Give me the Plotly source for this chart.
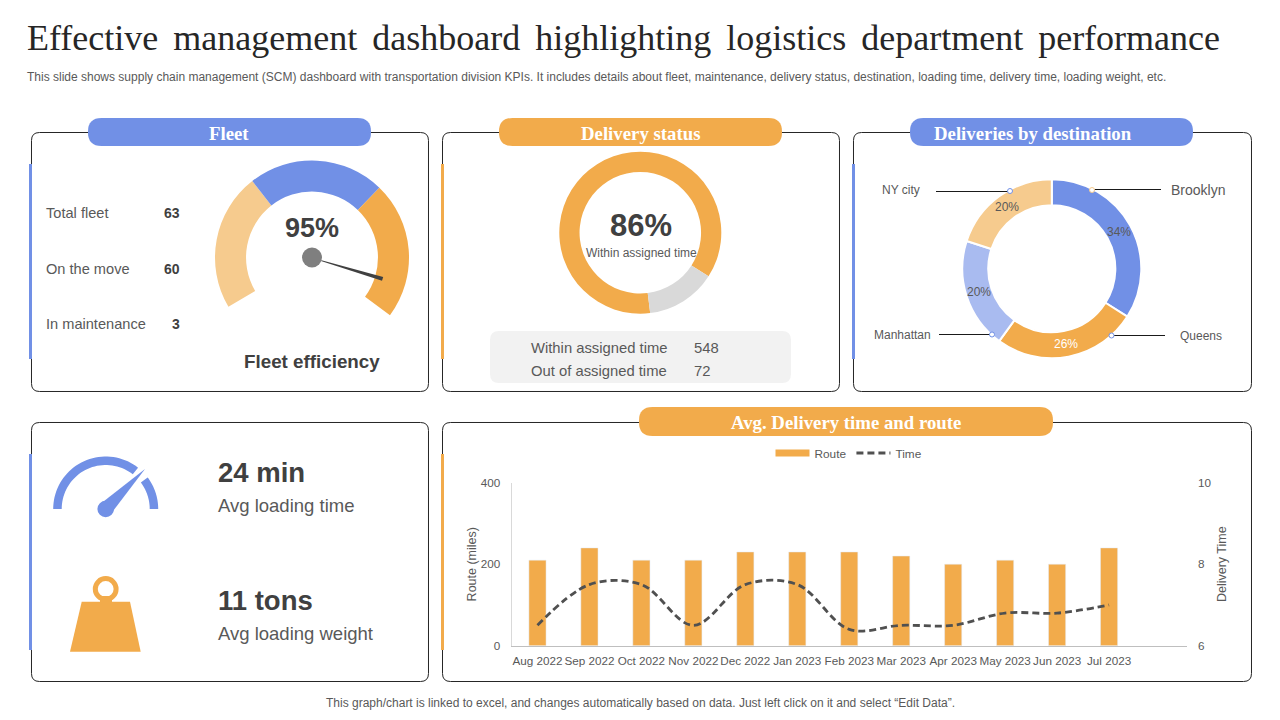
import numpy as np
import plotly.graph_objects as go

# the page body keeps its 8px margin, so the figure is drawn 8px in from the window edge
PAGE_PAD = 8
W, H = 1280 - PAGE_PAD, 720 - PAGE_PAD
BLUE = "#7190E6"
ORANGE = "#F2AB4B"
LIGHT_ORANGE = "#F6CB8E"
LIGHT_BLUE = "#A9BBF0"
GREY_TXT = "#595959"
DARK_TXT = "#404040"
SANS = "Liberation Sans"
SERIF = "Liberation Serif"

# data
fleet_labels = ["Total fleet", "On the move", "In maintenance"]
fleet_values = [63, 60, 3]
gauge_values = [82.5, 82, 82.5, 113]  # last one is the empty bottom of the dial
status_labels = ["Within assigned time", "Out of assigned time"]
status_share = [86, 14]
status_counts = [548, 72]
dest_labels = ["Brooklyn", "Queens", "Manhattan", "NY city"]
dest_values = [34, 26, 20, 20]
months = ["Aug 2022", "Sep 2022", "Oct 2022", "Nov 2022", "Dec 2022", "Jan 2023",
          "Feb 2023", "Mar 2023", "Apr 2023", "May 2023", "Jun 2023", "Jul 2023"]
route = [210, 240, 210, 210, 230, 230, 230, 220, 200, 210, 200, 240]
time_vals = [6.5, 7.5, 7.5, 6.5, 7.5, 7.5, 6.4, 6.5, 6.5, 6.8, 6.8, 7.0]


def px(x):
    return (x - PAGE_PAD) / W


def py(y):
    return 1 - (y - PAGE_PAD) / H


def pie_domain(cx, cy, r):
    return dict(x=[px(cx - r), px(cx + r)], y=[py(cy + r), py(cy - r)])


def rrect(x0, y0, x1, y1, r):
    # rounded rectangle path in paper coordinates
    pts = [("M", x0 + r, y0), ("L", x1 - r, y0), ("Q", x1, y0, x1, y0 + r), ("L", x1, y1 - r),
           ("Q", x1, y1, x1 - r, y1), ("L", x0 + r, y1), ("Q", x0, y1, x0, y1 - r),
           ("L", x0, y0 + r), ("Q", x0, y0, x0 + r, y0)]
    out = ""
    for p in pts:
        nums = p[1:]
        coords = []
        for i in range(0, len(nums), 2):
            coords.append(f"{px(nums[i]):.5f},{py(nums[i + 1]):.5f}")
        out += p[0] + " ".join(coords) + " "
    return out + "Z"


def poly(points):
    return "M" + " L".join(f"{px(x):.5f},{py(y):.5f}" for x, y in points) + " Z"


def arc_band(cx, cy, r0, r1, a0, a1):
    # band between two radii, angles clockwise from north in degrees
    a = np.radians(np.linspace(a0, a1, 40))
    outer = [(cx + r1 * np.sin(t), cy - r1 * np.cos(t)) for t in a]
    inner = [(cx + r0 * np.sin(t), cy - r0 * np.cos(t)) for t in a[::-1]]
    return poly(outer + inner)


shapes = []
annots = []


def add_path(path, fill, line=None, width=0):
    shapes.append(dict(type="path", path=path, fillcolor=fill, xref="paper", yref="paper",
                       line=dict(color=line or "rgba(0,0,0,0)", width=width), layer="below"))


def add_circle(cx, cy, r, fill, line=None, width=0, layer="below"):
    shapes.append(dict(type="circle", xref="paper", yref="paper",
                       x0=px(cx - r), x1=px(cx + r), y0=py(cy + r), y1=py(cy - r), fillcolor=fill,
                       line=dict(color=line or "rgba(0,0,0,0)", width=width), layer=layer))


def add_rect(x0, y0, x1, y1, fill):
    shapes.append(dict(type="rect", xref="paper", yref="paper", x0=px(x0), x1=px(x1),
                       y0=py(y1), y1=py(y0), fillcolor=fill, line=dict(width=0), layer="below"))


def add_line(x0, x1, y, color="#1A1A1A", width=1):
    shapes.append(dict(type="line", xref="paper", yref="paper", x0=px(x0), x1=px(x1),
                       y0=py(y), y1=py(y), line=dict(color=color, width=width)))


def text(x, y, s, size, color=GREY_TXT, bold=False, anchor="left", family=SANS):
    if bold:
        s = f"<b>{s}</b>"
    annots.append(dict(x=px(x), y=py(y), text=s, xref="paper", yref="paper", showarrow=False,
                       xanchor=anchor, yanchor="middle", borderpad=0,
                       font=dict(family=family, size=size, color=color)))


# panels, side accents and header pills
panels = [(31.5, 132.5, 428.5, 391.5), (442.5, 132.5, 839.5, 391.5), (853.5, 132.5, 1251.5, 391.5),
          (31.5, 422.5, 428.5, 681.5), (442.5, 422.5, 1251.5, 681.5)]
for p in panels:
    add_path(rrect(p[0], p[1], p[2], p[3], 8), "white", "#262626", 1)

add_rect(29, 164, 32, 359, BLUE)
add_rect(441, 164, 444, 359, ORANGE)
add_rect(852, 164, 855, 359, BLUE)
add_rect(29, 454, 32, 650, BLUE)
add_rect(441, 454, 444, 650, ORANGE)

pills = [(88, 118, 371, 146, BLUE, "Fleet", 229), (499, 118, 782, 146, ORANGE, "Delivery status", 640),
         (910, 118, 1193, 146, BLUE, "Deliveries by destination", 1033),
         (639, 407, 1053, 436, ORANGE, "Avg. Delivery time and route", 846)]
for x0, y0, x1, y1, col, label, tx in pills:
    add_path(rrect(x0, y0, x1, y1, 13.5), col)
    text(tx, (y0 + y1) / 2 + 1, label, 18.8, "white", True, "center", SERIF)

# headline text
gap = " \u200a\u200a"
title_txt = gap.join("Effective management dashboard highlighting logistics department performance".split(" "))
text(26, 38, title_txt, 36, "#262626", False, "left", SERIF)
text(25.5, 77, "This slide shows supply chain management (SCM) dashboard with transportation division KPIs. "
     "It includes details about fleet, maintenance, delivery status, destination, loading time, "
     "delivery time, loading weight, etc.", 12)
text(640.5, 703, "This graph/chart is linked to excel, and changes automatically based on data. "
     "Just left click on it and select \u201cEdit Data\u201d.", 12, anchor="center")

# fleet panel
for label, val, y in zip(fleet_labels, fleet_values, [213, 269, 324]):
    text(45, y, label, 14.6)
    text(181, y, val, 14, DARK_TXT, True, "right")
text(312, 228, "95%", 27, DARK_TXT, True, "center")
text(311.5, 361, "Fleet efficiency", 18.8, DARK_TXT, True, "center")
shapes.append(dict(type="path", xref="paper", yref="paper", fillcolor=DARK_TXT, line=dict(width=0),
                   path=poly([(321.5, 260.3), (383.2, 277), (382, 280.8), (321, 260.9)])))
add_circle(312, 257.5, 10, "#7F7F7F", layer="above")

# delivery status panel
text(640.5, 225, "86%", 31, DARK_TXT, True, "center")
text(641, 253.5, status_labels[0], 12, GREY_TXT, anchor="center")
add_path(rrect(490, 331, 791, 383, 9), "#F2F2F2")
for label, val, y in zip(status_labels, status_counts, [348, 371]):
    text(529.5, y, label, 14.8)
    text(693.5, y, val, 14.8)

# destination call-outs
add_line(1094, 1161, 189.5)
add_line(1112, 1165, 335.5)
add_line(939, 992, 334.5)
add_line(936, 1010, 191.5)
add_circle(1092, 190, 2.5, "white", LIGHT_ORANGE, 1, "above")
add_circle(1111.5, 335.5, 2.5, "white", BLUE, 1, "above")
add_circle(992, 334.5, 2.5, "white", BLUE, 1, "above")
add_circle(1010, 191, 2.5, "white", BLUE, 1, "above")
text(1198, 190, dest_labels[0], 14, anchor="center")
text(1200.5, 335.5, dest_labels[1], 12, anchor="center")
text(902, 334.5, dest_labels[2], 12, anchor="center")
text(900.5, 190.5, dest_labels[3], 12, anchor="center")

# percent labels sit mid ring at each slice's mid angle
DEST_CX, DEST_CY, DEST_R, DEST_HOLE = 1051.8, 268.7, 89.5, 0.71
ring_mid = DEST_R * (1 + DEST_HOLE) / 2
shares = np.array(dest_values) / sum(dest_values)
mids = (np.cumsum(shares) - shares / 2) * 2 * np.pi
for v, a, col in zip(dest_values, mids, [GREY_TXT, "white", GREY_TXT, GREY_TXT]):
    text(DEST_CX + ring_mid * np.sin(a), DEST_CY - ring_mid * np.cos(a), f"{v}%", 12, col, anchor="center")

# loading KPIs with icons
add_path(arc_band(105.7, 509, 44, 52.5, -90, 38), BLUE)
add_path(arc_band(105.7, 509, 44, 52.5, 53, 90), BLUE)
add_circle(105.7, 509, 8.3, BLUE)
add_path(poly([(99, 505), (145, 469), (110, 515)]), BLUE)
add_path(poly([(81.7, 601.7), (130, 601.7), (140.7, 651.7), (70, 651.7)]), ORANGE)
add_circle(105.7, 589, 10.4, "white", ORANGE, 5)
add_rect(100, 596, 112, 603, ORANGE)
text(217, 472, "24 min", 27.5, DARK_TXT, True)
text(217, 505.5, "Avg loading time", 18.5)
text(217, 600, "11 tons", 27.5, DARK_TXT, True)
text(217, 633.5, "Avg loading weight", 18.5)

fig = go.Figure()

fig.add_trace(go.Pie(values=gauge_values, sort=False, direction="clockwise", rotation=239.5, hole=0.68,
                     domain=pie_domain(312, 257.5, 97), textinfo="none", hoverinfo="skip", showlegend=False,
                     marker=dict(colors=[LIGHT_ORANGE, BLUE, ORANGE, "rgba(0,0,0,0)"], line=dict(width=0))))
fig.add_trace(go.Pie(labels=status_labels, values=status_share, sort=False, direction="clockwise", rotation=173,
                     hole=0.75, domain=pie_domain(640.3, 232.7, 81), textinfo="none", showlegend=False,
                     marker=dict(colors=[ORANGE, "#D9D9D9"], line=dict(width=0))))
fig.add_trace(go.Pie(labels=dest_labels, values=dest_values, sort=False, direction="clockwise", rotation=0,
                     hole=DEST_HOLE, domain=pie_domain(DEST_CX, DEST_CY, DEST_R), textinfo="none", showlegend=False,
                     marker=dict(colors=[BLUE, ORANGE, LIGHT_BLUE, LIGHT_ORANGE], line=dict(color="white", width=2))))

# stand-in so the legend shows the long flat bar swatch
fig.add_trace(go.Scatter(x=[None], y=[None], mode="lines", name="Route", line=dict(color=ORANGE, width=7)))
fig.add_trace(go.Bar(x=months, y=route, name="Route", marker_color=ORANGE, showlegend=False))
fig.add_trace(go.Scatter(x=months, y=time_vals, name="Time", yaxis="y2", mode="lines",
                         line=dict(color="#505050", width=2.8, dash="7px,4px", shape="spline", smoothing=1.0)))

tick_font = dict(family=SANS, size=11.7, color=GREY_TXT)
axis_title_font = dict(family=SANS, size=12.5, color=GREY_TXT)
fig.update_layout(
    width=W, height=H, margin=dict(l=0, r=0, t=0, b=0, autoexpand=False), paper_bgcolor="white",
    plot_bgcolor="rgba(0,0,0,0)", shapes=shapes, annotations=annots, bargap=0.67,
    legend=dict(orientation="h", x=px(849), y=py(453), xanchor="center", yanchor="middle",
                font=dict(family=SANS, size=11.8, color=GREY_TXT), itemwidth=34, bgcolor="rgba(0,0,0,0)"),
    xaxis=dict(domain=[px(511.5), px(1187)], anchor="y", type="category", range=[-0.5, 12.5], tickmode="array",
               tickvals=months, ticktext=months, tickangle=0, tickfont=tick_font, showgrid=False, showline=True,
               linecolor="#BFBFBF", ticks="", ticklabelstandoff=4),
    yaxis=dict(domain=[py(645.7), py(482.7)], anchor="x", range=[0, 400], tickvals=[0, 200, 400], showgrid=False,
               showline=True, linecolor="#D9D9D9", tickfont=tick_font, zeroline=False, ticks="", ticklabelstandoff=8,
               title=dict(text="Route (miles)", font=axis_title_font, standoff=1)),
    yaxis2=dict(domain=[py(645.7), py(482.7)], anchor="x", overlaying="y", side="right", range=[6, 10],
                tickvals=[6, 8, 10], showgrid=False, showline=False, tickfont=tick_font, zeroline=False, ticks="",
                ticklabelstandoff=10,
                title=dict(text="Delivery Time", font=axis_title_font, standoff=6)),
)

fig.write_html("out.html")
